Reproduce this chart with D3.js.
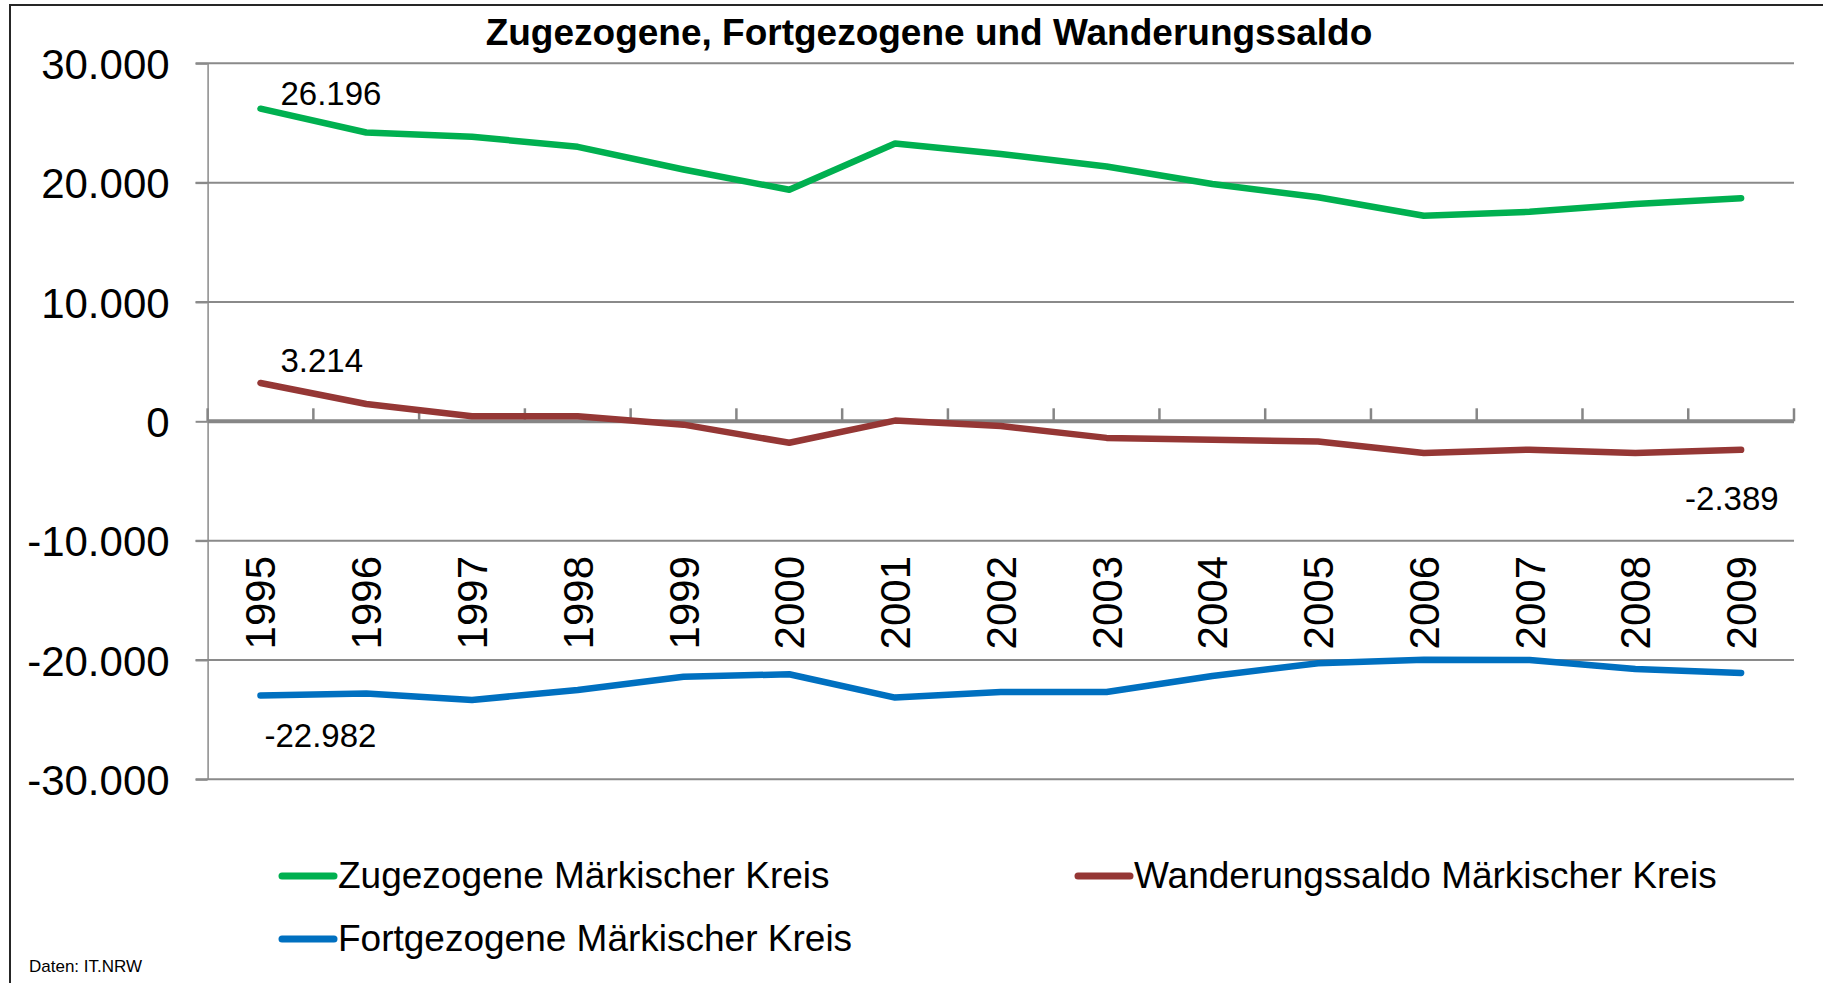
<!DOCTYPE html>
<html lang="de">
<head>
<meta charset="UTF-8">
<title>Zugezogene, Fortgezogene und Wanderungssaldo</title>
<script src="https://cdn.jsdelivr.net/npm/d3@7"></script>
<style>
  html, body { margin: 0; padding: 0; background: #ffffff; }
  svg { display: block; font-family: "Liberation Sans", Arial, sans-serif; }
</style>
</head>
<body>
<svg id="chart" width="1823" height="983"></svg>
<script>
  // data
  var years = ["1995", "1996", "1997", "1998", "1999", "2000", "2001", "2002",
               "2003", "2004", "2005", "2006", "2007", "2008", "2009"];
  var zugezogene = [26196, 24200, 23850, 23000, 21100, 19400, 23280, 22400,
                    21350, 19880, 18770, 17230, 17560, 18200, 18700];
  var fortgezogene = [-22982, -22820, -23350, -22520, -21400, -21200, -23150, -22680,
                      -22680, -21340, -20280, -19980, -20000, -20750, -21090];
  var saldo = [3214, 1450, 420, 430, -280, -1800, 60, -400,
               -1390, -1550, -1700, -2650, -2380, -2650, -2389];
  var yTicks = [-30000, -20000, -10000, 0, 10000, 20000, 30000];

  var series = [
    {name: "Zugezogene Märkischer Kreis", values: zugezogene, color: "#00b050"},
    {name: "Wanderungssaldo Märkischer Kreis", values: saldo, color: "#953735"},
    {name: "Fortgezogene Märkischer Kreis", values: fortgezogene, color: "#0070c0"}
  ];

  var de = d3.formatLocale({decimal: ",", thousands: ".", grouping: [3], currency: ["", " €"], minus: "-"});
  var fmt = de.format(",d");

  var svg = d3.select("#chart");
  var plotLeft = 207.6, plotRight = 1794, plotTop = 63.3, plotBottom = 779.3;

  var x = d3.scalePoint().domain(years).range([plotLeft, plotRight]).padding(0.5);
  var y = d3.scaleLinear().domain([-30000, 30000]).range([plotBottom, plotTop]);
  var step = x.step();

  // outer frame (only left + top visible in the crop)
  svg.append("rect")
    .attr("x", 10).attr("y", 5)
    .attr("width", 1900).attr("height", 1100)
    .attr("fill", "none")
    .attr("stroke", "#262626")
    .attr("stroke-width", 2);

  // title
  svg.append("text")
    .attr("x", 929)
    .attr("y", 45)
    .attr("text-anchor", "middle")
    .attr("font-weight", "bold")
    .attr("font-size", 37)
    .text("Zugezogene, Fortgezogene und Wanderungssaldo");

  // horizontal gridlines
  svg.append("g")
    .selectAll("line")
    .data(yTicks.filter(function(d) { return d !== 0; }))
    .join("line")
    .attr("x1", plotLeft - 12).attr("x2", plotRight)
    .attr("y1", function(d) { return y(d); })
    .attr("y2", function(d) { return y(d); })
    .attr("stroke", "#8a8a8a")
    .attr("stroke-width", 2);

  // y axis
  var yAxis = d3.axisLeft(y)
    .tickValues(yTicks)
    .tickSize(12)
    .tickSizeOuter(0)
    .tickPadding(26)
    .tickFormat(fmt);
  var gy = svg.append("g")
    .attr("transform", "translate(" + plotLeft + ",0)")
    .call(yAxis);
  gy.select(".domain").attr("stroke", "#8a8a8a").attr("stroke-width", 1.5);
  gy.selectAll(".tick line").attr("stroke", "#8a8a8a").attr("stroke-width", 2);
  gy.selectAll(".tick text")
    .attr("font-family", "Liberation Sans, Arial, sans-serif")
    .attr("font-size", 42)
    .attr("fill", "#000")
    .attr("dy", "0.36em");

  // zero line (category axis) with upward ticks
  var zeroY = y(0);
  var boundaries = years.map(function(d) { return x(d) - step / 2; });
  boundaries.push(plotRight);
  var gx = svg.append("g");
  gx.selectAll("line.tk")
    .data(boundaries)
    .join("line")
    .attr("class", "tk")
    .attr("x1", function(d) { return d; })
    .attr("x2", function(d) { return d; })
    .attr("y1", zeroY - 13)
    .attr("y2", zeroY)
    .attr("stroke", "#868686")
    .attr("stroke-width", 2.5);
  gx.append("line")
    .attr("x1", plotLeft).attr("x2", plotRight)
    .attr("y1", zeroY).attr("y2", zeroY)
    .attr("stroke", "#868686")
    .attr("stroke-width", 4);

  // year labels, rotated, low position
  svg.append("g")
    .selectAll("text")
    .data(years)
    .join("text")
    .attr("transform", function(d) { return "translate(" + (x(d) + 15) + "," + 556 + ") rotate(-90)"; })
    .attr("text-anchor", "end")
    .attr("font-size", 42)
    .text(function(d) { return d; });

  // lines
  var line = d3.line()
    .x(function(d, i) { return x(years[i]); })
    .y(function(d) { return y(d); });

  svg.append("g")
    .selectAll("path")
    .data(series)
    .join("path")
    .attr("d", function(s) { return line(s.values); })
    .attr("fill", "none")
    .attr("stroke", function(s) { return s.color; })
    .attr("stroke-width", 6.5)
    .attr("stroke-linejoin", "round")
    .attr("stroke-linecap", "round");

  // data labels at first / last points
  var first = years[0], last = years[years.length - 1];
  var labels = [
    {v: zugezogene[0], year: first, dx: 20, dy: -4},
    {v: saldo[0], year: first, dx: 20, dy: -11},
    {v: fortgezogene[0], year: first, dx: 4, dy: 51},
    {v: saldo[saldo.length - 1], year: last, dx: -56, dy: 60}
  ];
  svg.append("g")
    .selectAll("text")
    .data(labels)
    .join("text")
    .attr("x", function(d) { return x(d.year) + d.dx; })
    .attr("y", function(d) { return y(d.v) + d.dy; })
    .attr("font-size", 33)
    .text(function(d) { return fmt(d.v); });

  // legend
  var legendPos = [
    {lx: 280, ly: 876},
    {lx: 1076, ly: 876},
    {lx: 280, ly: 939}
  ];
  var lg = svg.append("g")
    .selectAll("g")
    .data(series)
    .join("g")
    .attr("transform", function(s, i) { return "translate(" + legendPos[i].lx + "," + legendPos[i].ly + ")"; });
  lg.append("line")
    .attr("x1", 2).attr("x2", 54)
    .attr("y1", 0).attr("y2", 0)
    .attr("stroke", function(s) { return s.color; })
    .attr("stroke-width", 7)
    .attr("stroke-linecap", "round");
  lg.append("text")
    .attr("x", 58)
    .attr("y", 12)
    .attr("font-size", 37)
    .text(function(s) { return s.name; });

  // source note
  svg.append("text")
    .attr("x", 29)
    .attr("y", 972)
    .attr("font-size", 17)
    .text("Daten: IT.NRW");
</script>
</body>
</html>
